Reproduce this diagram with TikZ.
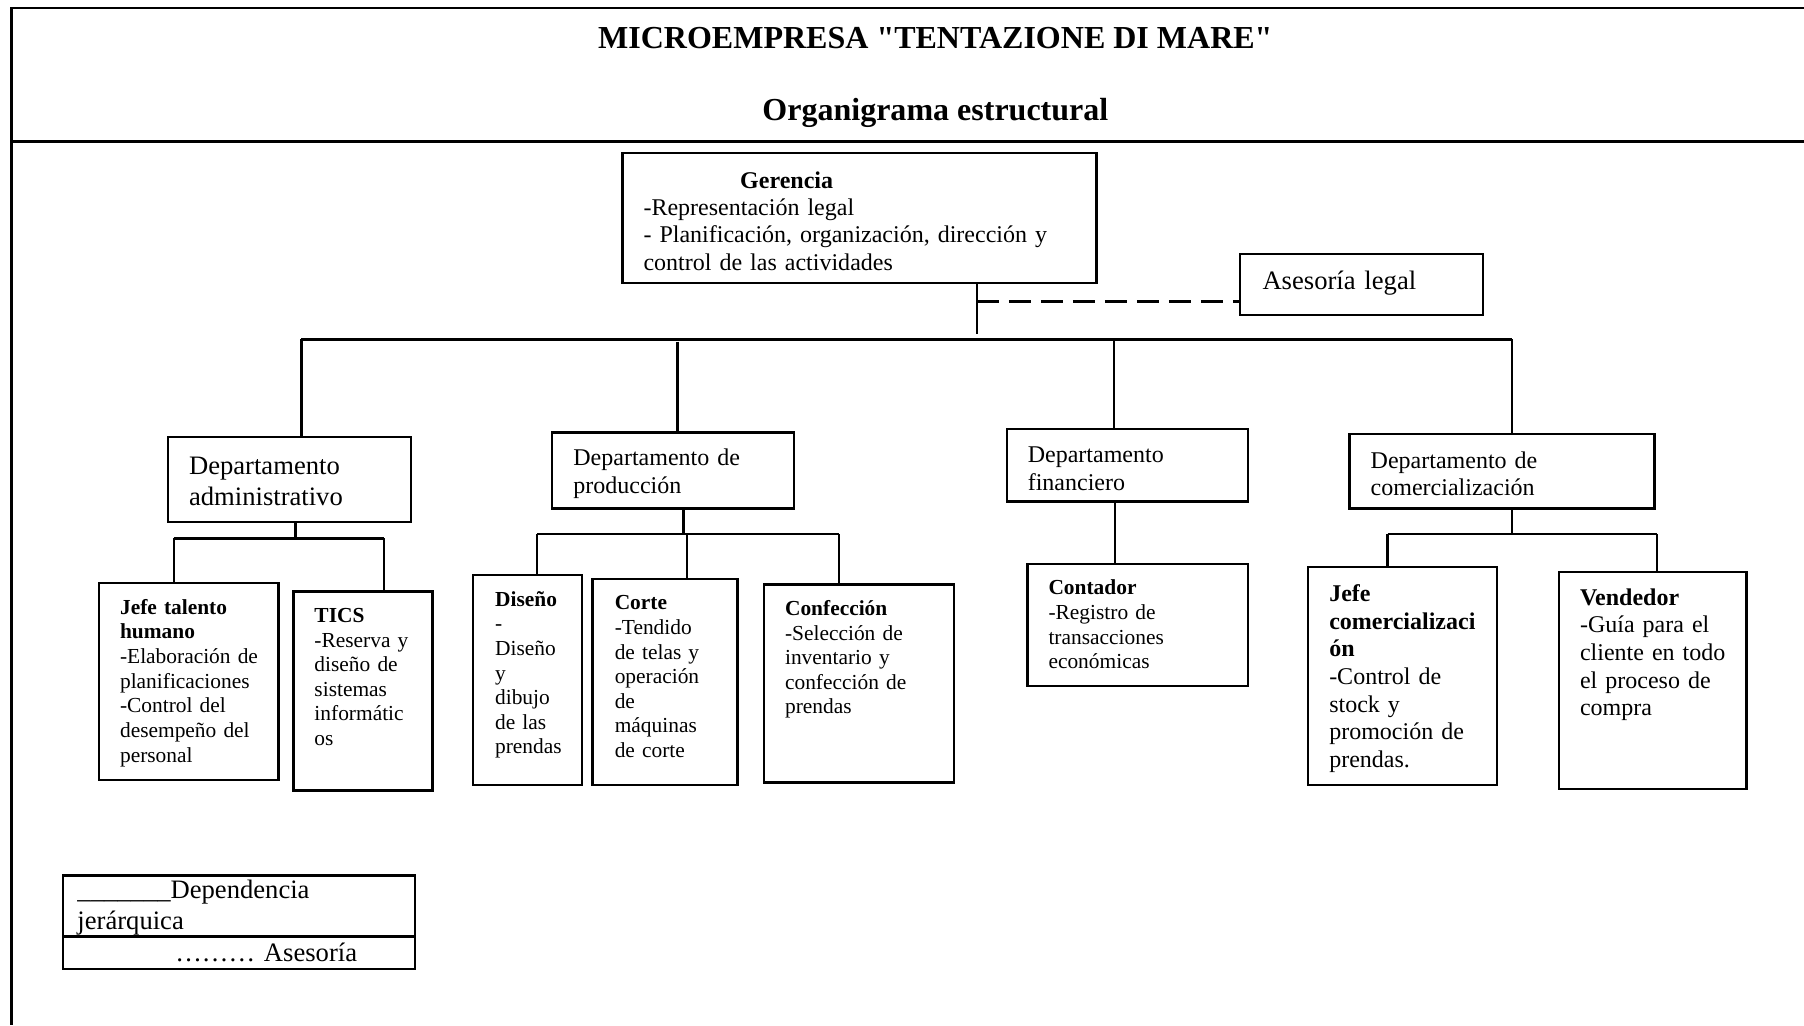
\documentclass[tikz,border=0pt]{standalone}
\usepackage{fontspec}
\setmainfont{Liberation Serif}
\usetikzlibrary{fit}

\tikzset{
  frame/.style={line width=1.4pt},
  box/.style={draw, line width=1.15pt, inner sep=0pt},
  link/.style={line width=1.2pt},
  advice/.style={line width=1.3pt, dash pattern=on 11pt off 5pt},
  txt/.style={anchor=base west, inner sep=0pt, align=left, text width=260pt},
  fbig/.style={font=\fontsize{13.3}{15.5}\selectfont},
  fmid/.style={font=\fontsize{12}{13.8}\selectfont},
  fsmall/.style={font=\fontsize{10.7}{12.3}\selectfont},
}

\begin{document}
\begin{tikzpicture}[x=0.575pt, y=-0.575pt]
\useasboundingbox (0,0) rectangle (1568,891);

% page frame and header band
\draw[frame] (1568,7) -- (10,7) -- (10,891);
\draw[frame] (10,123) -- (1568,123);
\node[anchor=base, inner sep=0pt, font=\fontsize{16}{19}\bfseries\selectfont] (title) at (813,42)
  {MICROEMPRESA \textquotedbl TENTAZIONE DI MARE\textquotedbl};
\node[anchor=base, inner sep=0pt, font=\fontsize{16}{19}\bfseries\selectfont] (subtitle) at (813,105)
  {Organigrama estructural};

% boxes
\node[box, fit={(541,133) (953,246)}] (ger) {};
\node[box, fit={(1078,221) (1289,274)}] (ase) {};
\node[box, fit={(146,380) (357,454)}] (adm) {};
\node[box, fit={(480,376) (690,442)}] (prod) {};
\node[box, fit={(875,373) (1085,436)}] (fin) {};
\node[box, fit={(1173,377) (1438,442)}] (com) {};
\node[box, fit={(86,507) (242,678)}] (jth) {};
\node[box, fit={(255,514) (376,687)}] (tics) {};
\node[box, fit={(411,500) (506,682)}] (dis) {};
\node[box, fit={(515,503) (641,682)}] (cor) {};
\node[box, fit={(664,508) (829,680)}] (conf) {};
\node[box, fit={(893,490) (1085,596)}] (cont) {};
\node[box, fit={(1137,493) (1301,682)}] (jc) {};
\node[box, fit={(1355,497) (1518,686)}] (vend) {};
\node[box, fit={(55,761) (361,842)}] (leg) {};

% box texts
\node[txt, fmid] (gerhead) at (643,164) {\textbf{Gerencia}};
\node[txt, fmid] (gertext) at (559,187)
  {-Representación legal\\- Planificación, organización, dirección y\\control de las actividades};
\node[txt, fbig] (asetext) at (1097,252) {Asesoría legal};
\node[txt, fbig] (admtext) at (164,412) {Departamento\\administrativo};
\node[txt, fmid] (prodtext) at (498,405) {Departamento de\\producción};
\node[txt, fmid] (fintext) at (893,402) {Departamento\\financiero};
\node[txt, fmid] (comtext) at (1191,407) {Departamento de\\comercialización};
\node[txt, fsmall] (jthtext) at (104,534)
  {\textbf{Jefe talento}\\\textbf{humano}\\-Elaboración de\\planificaciones\\-Control del\\desempeño del\\personal};
\node[txt, fsmall] (ticstext) at (273,541)
  {\textbf{TICS}\\-Reserva y\\diseño de\\sistemas\\informátic\\os};
\node[txt, fsmall] (distext) at (430,527)
  {\textbf{Diseño}\\-\\Diseño\\y\\dibujo\\de las\\prendas};
\node[txt, fsmall] (cortext) at (534,530)
  {\textbf{Corte}\\-Tendido\\de telas y\\operación\\de\\máquinas\\de corte};
\node[txt, fsmall] (conftext) at (682,535)
  {\textbf{Confección}\\-Selección de\\inventario y\\confección de\\prendas};
\node[txt, fsmall] (conttext) at (911,517)
  {\textbf{Contador}\\-Registro de\\transacciones\\económicas};
\node[txt, fmid] (jctext) at (1155,523)
  {\textbf{Jefe}\\\textbf{comercializaci}\\\textbf{ón}\\-Control de\\stock y\\promoción de\\prendas.};
\node[txt, fmid] (vendtext) at (1373,526)
  {\textbf{Vendedor}\\-Guía para el\\cliente en todo\\el proceso de\\compra};

% legend
\coordinate (legdiv) at (0,814);
\draw[box] (leg.west |- legdiv) -- (leg.east |- legdiv);
\node[txt, fbig] (legtop) at (67,781) {\_\_\_\_\_\_\_Dependencia\\jerárquica};
\node[txt, fbig] (legbot) at (152,836) {……… Asesoría};

% management to the departments
\coordinate (gj) at (849,290);
\draw[link] (ger.south -| gj) -- (gj);
\coordinate (gd) at (849,262);
\draw[advice] (gd) -- (ase.west |- gd);
\coordinate (b1) at (262,295);
\coordinate (b2) at (589,297);
\coordinate (b3) at (968,295);
\coordinate (b4) at (1314,295);
\draw[link] (b1) -- (b4);
\draw[link] (b1) -- (b1 |- adm.north);
\draw[link] (b2) -- (b2 |- prod.north);
\draw[link] (b3) -- (b3 |- fin.north);
\draw[link] (b4) -- (b4 |- com.north);

% administrative department
\coordinate (a0) at (257,468);
\coordinate (a1) at (151,468);
\coordinate (a2) at (334,468);
\draw[link] (adm.south -| a0) -- (a0);
\draw[link] (a1) -- (a2);
\draw[link] (a1) -- (a1 |- jth.north);
\draw[link] (a2) -- (a2 |- tics.north);

% production department
\coordinate (p0) at (594,464);
\coordinate (p1) at (467,464);
\coordinate (p2) at (597,464);
\coordinate (p3) at (729,464);
\draw[link] (prod.south -| p0) -- (p0);
\draw[link] (p1) -- (p3);
\draw[link] (p1) -- (p1 |- dis.north);
\draw[link] (p2) -- (p2 |- cor.north);
\draw[link] (p3) -- (p3 |- conf.north);

% finance department
\coordinate (f0) at (969,460);
\draw[link] (fin.south -| f0) -- (cont.north -| f0);

% sales department
\coordinate (c0) at (1314,464);
\coordinate (c1) at (1206,464);
\coordinate (c2) at (1440,464);
\draw[link] (com.south -| c0) -- (c0);
\draw[link] (c1) -- (c2);
\draw[link] (c1) -- (c1 |- jc.north);
\draw[link] (c2) -- (c2 |- vend.north);
\end{tikzpicture}
\end{document}
